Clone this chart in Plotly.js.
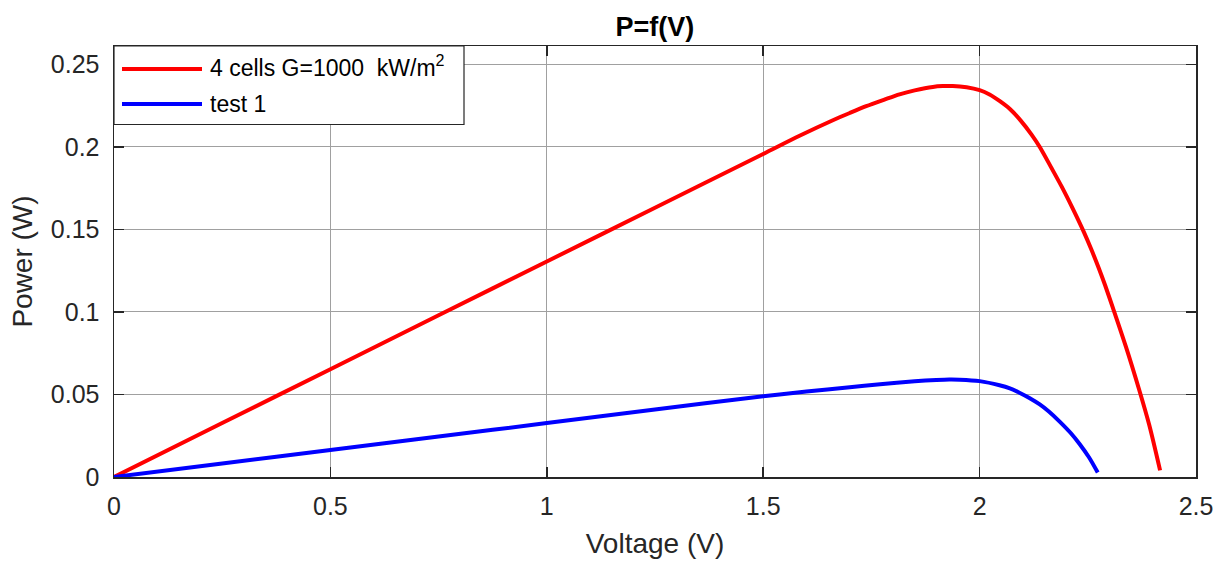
<!DOCTYPE html>
<html>
<head>
<meta charset="utf-8">
<script src="https://cdn.plot.ly/plotly-3.0.1.min.js"></script>
<style>html,body{margin:0;padding:0;background:#fff;}#chart{width:1223px;height:563px;}</style>
</head>
<body>
<div id="chart"></div>
<script>
const redV = [0, 0.25, 0.5, 0.75, 1.0, 1.25, 1.5, 1.584, 1.661, 1.7, 1.738, 1.78, 1.815, 1.85, 1.892, 1.915, 1.938, 1.97, 2.0, 2.023, 2.046, 2.07, 2.095, 2.12, 2.139, 2.165, 2.19, 2.215, 2.241, 2.258, 2.275, 2.29, 2.308, 2.338, 2.368, 2.392, 2.417];
const redP = [0, 0.0327, 0.0653, 0.0980, 0.1306, 0.1632, 0.1958, 0.2068, 0.2162, 0.2206, 0.2247, 0.2287, 0.2319, 0.2343, 0.2364, 0.2369, 0.2370, 0.2362, 0.2344, 0.2318, 0.2279, 0.2230, 0.2160, 0.2075, 0.2000, 0.1878, 0.1758, 0.1628, 0.1484, 0.1380, 0.1268, 0.1162, 0.1025, 0.0790, 0.0535, 0.0315, 0.0040];
const blueV = [0, 0.25, 0.5, 0.75, 1.0, 1.25, 1.5, 1.6, 1.7, 1.77, 1.85, 1.9, 1.93, 1.954, 2.0, 2.046, 2.07, 2.092, 2.115, 2.139, 2.16, 2.185, 2.21, 2.231, 2.253, 2.273];
const blueP = [0, 0.0082, 0.0164, 0.0245, 0.0327, 0.0409, 0.0489, 0.0518, 0.0544, 0.0562, 0.0580, 0.0588, 0.0591, 0.0590, 0.0581, 0.0556, 0.0537, 0.0511, 0.0479, 0.0440, 0.0397, 0.0336, 0.0268, 0.0200, 0.0118, 0.0027];
const xTicks = [0, 0.5, 1, 1.5, 2, 2.5];
const xTickText = ['0', '0.5', '1', '1.5', '2', '2.5'];
const yTicks = [0, 0.05, 0.1, 0.15, 0.2, 0.25];
const yTickText = ['0', '0.05', '0.1', '0.15', '0.2', '0.25'];
const names = ['4 cells G=1000\u00a0 kW/m<sup>2</sup>', 'test 1'];
const colors = ['#ff0000', '#0000ff'];

const font = 'Liberation Sans, Arial, Helvetica, sans-serif';
const traces = [
  {x: redV, y: redP, name: names[0], mode: 'lines', line: {color: colors[0], width: 4, shape: 'spline', smoothing: 0.8}},
  {x: blueV, y: blueP, name: names[1], mode: 'lines', line: {color: colors[1], width: 4, shape: 'spline', smoothing: 0.8}}
];
const axisCommon = {
  showline: true, linecolor: '#262626', linewidth: 1.5, mirror: 'ticks',
  ticks: 'inside', ticklen: 10, tickcolor: '#262626', tickwidth: 1.5,
  showgrid: true, gridcolor: '#a0a0a0', gridwidth: 1,
  zeroline: false, tickfont: {family: font, size: 25, color: '#262626'},
  tickmode: 'array'
};

// custom legend (MATLAB style, long line samples), in plot-area fractions
const plotW = 1082, plotH = 431;
const legBox = {x1: 350 / plotW, y0: 1 - 78.5 / plotH};
const legRows = [1 - 23 / plotH, 1 - 58 / plotH];
const legLine = {x0: 8 / plotW, x1: 88 / plotW, tx: 94 / plotW};
const shapes = [{type: 'rect', xref: 'paper', yref: 'paper', x0: 0, x1: legBox.x1, y0: legBox.y0, y1: 1,
  fillcolor: '#ffffff', line: {color: '#262626', width: 1.2}, layer: 'above'}];
const annotations = [];
names.forEach((n, i) => {
  shapes.push({type: 'line', xref: 'paper', yref: 'paper', x0: legLine.x0, x1: legLine.x1, y0: legRows[i], y1: legRows[i],
    line: {color: colors[i], width: 4}, layer: 'above'});
  annotations.push({xref: 'paper', yref: 'paper', x: legLine.tx, y: legRows[i] + (i === 0 ? 0.006 : 0), xanchor: 'left', yanchor: 'middle',
    text: n, showarrow: false, font: {family: font, size: 23, color: '#000'}});
});

const layout = {
  width: 1223, height: 563,
  margin: {l: 114, r: 27, t: 46, b: 86},
  paper_bgcolor: '#ffffff', plot_bgcolor: '#ffffff',
  title: {text: '<b>P=f(V)</b>', font: {family: font, size: 27, color: '#000'}, x: 0.5355, xanchor: 'center', y: 1 - 27/563, yanchor: 'middle', yref: 'container'},
  xaxis: Object.assign({}, axisCommon, {range: [0, 2.5], tickvals: xTicks, ticktext: xTickText, ticklabelstandoff: 6,
    title: {text: 'Voltage (V)', font: {family: font, size: 28, color: '#262626'}, standoff: 15}}),
  yaxis: Object.assign({}, axisCommon, {range: [0, 0.2612], tickvals: yTicks, ticktext: yTickText, ticklabelstandoff: 8,
    title: {text: 'Power (W)', font: {family: font, size: 28, color: '#262626'}, standoff: 10}}),
  showlegend: false,
  shapes: shapes,
  annotations: annotations
};
Plotly.newPlot('chart', traces, layout, {displayModeBar: false, staticPlot: true});
</script>
</body>
</html>
